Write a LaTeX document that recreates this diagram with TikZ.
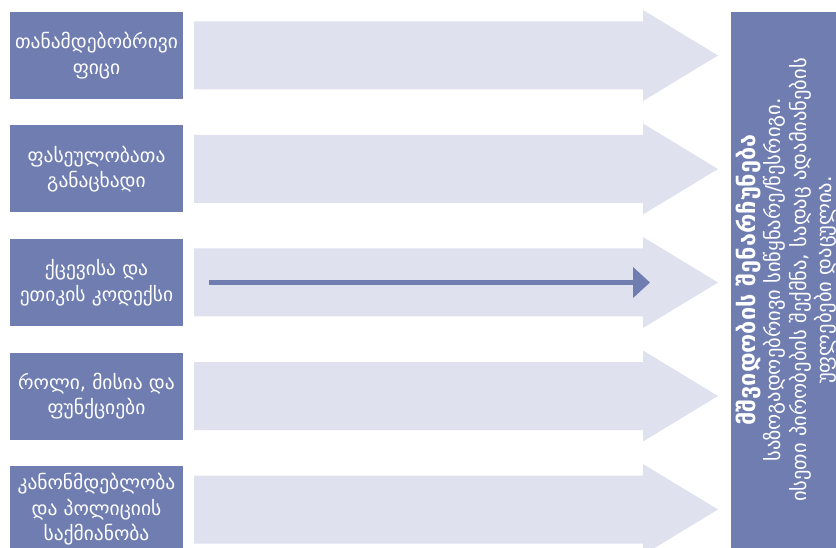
\documentclass[tikz,border=0pt]{standalone}
\usepackage{fontspec}
\newfontfamily\geo{DejaVu Sans}
\usepackage{tikz}
\usetikzlibrary{arrows.meta, positioning}

\definecolor{boxblue}{RGB}{111,125,177}
\definecolor{arrowgray}{RGB}{223,225,239}

\begin{document}
\begin{tikzpicture}[
  x=1pt, y=-1pt,
  box/.style = {rectangle, fill=boxblue, text=white,
                minimum width=173pt, minimum height=87pt,
                inner sep=0pt, align=center,
                font=\geo\fontsize{19.5}{25.5}\selectfont},
  arr/.style = {-{Triangle[length=17pt, width=30pt]}, line width=5pt, boxblue}
]
  \useasboundingbox (0,0) rectangle (836,548);

  % background arrows
  \foreach \yc in {55.5, 169, 282.5, 396, 509.5}
    \fill[arrowgray] (194,\yc-34) -- (643,\yc-34) -- (643,\yc-45.5)
      -- (718,\yc) -- (643,\yc+45.5) -- (643,\yc+34) -- (194,\yc+34) -- cycle;

  \node[box] (oath)   at (96.5,55.5)  {თანამდებობრივი\\ფიცი};
  \node[box] (values) at (96.5,169)   {ფასეულობათა\\განაცხადი};
  \node[box] (ethics) at (96.5,282.5) {ქცევისა და\\ეთიკის კოდექსი};
  \node[box] (role)   at (96.5,396)   {როლი, მისია და\\ფუნქციები};
  \node[box] (law)    at (96.5,509.5) {კანონმდებლობა\\და პოლიციის\\საქმიანობა};

  % right column
  \fill[boxblue] (731,12) rectangle (840,550);
  \node[rotate=90, align=center, text=white, inner sep=0pt,
        font=\geo\fontsize{20.5}{25.5}\selectfont] (peace) at (786,280)
    {{\bfseries\fontsize{23.5}{25.5}\selectfont მშვიდობის შენარჩუნება}\\
     საზოგადოებრივი სიწყნარე/წესრიგი.\\
     ისეთი პირობების შექმნა, სადაც ადამიანების\\
     უფლებები დაცულია.};

  \coordinate (start) at (209,282.5);
  \coordinate (stop)  at (650,282.5);
  \draw[arr] (start) -- (stop);
\end{tikzpicture}
\end{document}
